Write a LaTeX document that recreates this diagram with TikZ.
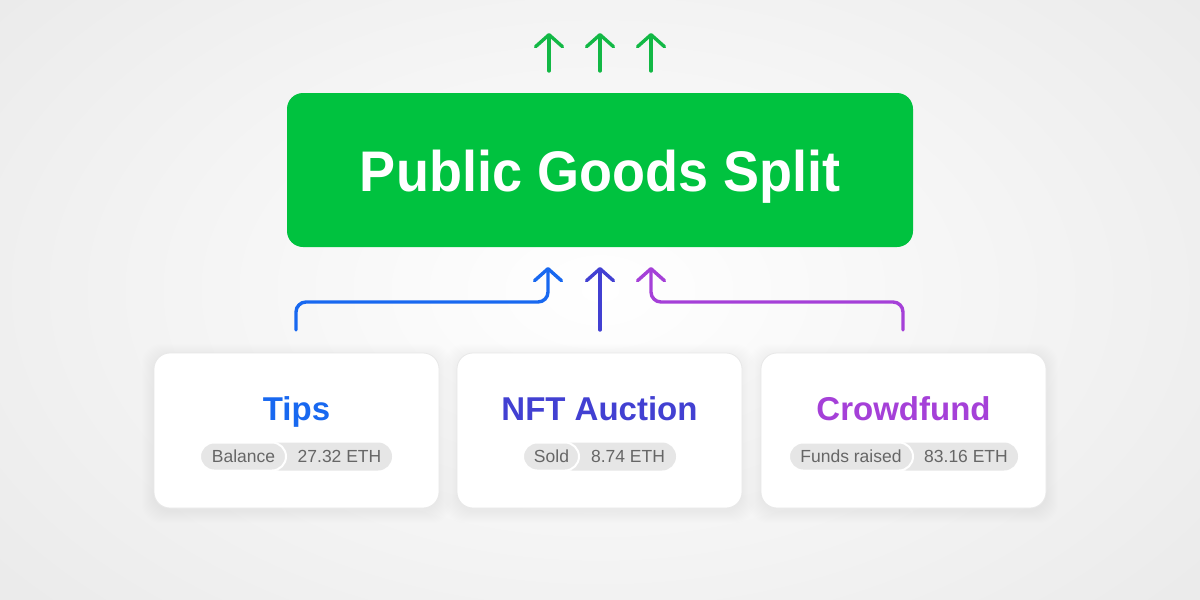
\documentclass[tikz,border=0pt]{standalone}
\usepackage{fontspec}
\setmainfont{Liberation Sans}
\usetikzlibrary{arrows.meta,calc}
\definecolor{bgc}{HTML}{EBEBEB}
\definecolor{gboxc}{HTML}{00C23F}
\definecolor{garrc}{HTML}{12B845}
\definecolor{tipsc}{HTML}{1868F0}
\definecolor{nftc}{HTML}{4240D2}
\definecolor{crowdc}{HTML}{A540D8}
\definecolor{pillc}{HTML}{E6E6E6}
\definecolor{pilltxt}{HTML}{666666}
\definecolor{cardline}{HTML}{E8E8E8}
\pgfdeclarelayer{bglayer}
\pgfdeclarelayer{shadowlayer}
\pgfsetlayers{bglayer,shadowlayer,main}
\tikzset{
  gbox/.style={fill=gboxc, rounded corners=16pt, minimum width=626pt, minimum height=154pt, inner sep=0pt, text=white},
  card/.style={fill=white, draw=cardline, line width=0.8pt, rounded corners=16pt, minimum width=285pt, minimum height=155pt, inner sep=0pt},
  ttl/.style={anchor=base, inner sep=0pt, font=\fontsize{33}{33}\selectfont\bfseries},
  ptxt/.style={anchor=base, inner sep=0pt, text=pilltxt, font=\fontsize{17.5}{17.5}\selectfont},
  pillbg/.style={fill=pillc, rounded corners=14pt},
  pillfront/.style={fill=pillc, draw=white, line width=2pt, rounded corners=14pt},
  shadowpiece/.style={fill=black, opacity=0.004, rounded corners=20pt},
  conn/.style={line width=3.4pt, line cap=round, line join=round, rounded corners=10pt, -{Straight Barb[length=12pt,width=27pt,line cap=round,line join=round]}},
}
\begin{document}
\begin{tikzpicture}[x=1pt,y=-1pt]
\useasboundingbox (0,0) rectangle (1200,600);
\begin{pgfonlayer}{bglayer}
\fill[bgc] (0,0) rectangle (1200,600);
\begin{scope}
\clip (0,0) rectangle (1200,600);
\shade[inner color=white, outer color=bgc] (600,290) ellipse (760pt and 470pt);
\end{scope}
\end{pgfonlayer}

% main box
\node[gbox] (pgs) at (600,170) {};
\node[anchor=base, inner sep=0pt, text=white] (pgsT) at (600,191) {\scalebox{1}[1.06]{\fontsize{54}{54}\selectfont\bfseries Public Goods Split}};

% top green arrows
\coordinate (g1s) at (549,71); \coordinate (g1e) at (549,33);
\coordinate (g2s) at (600,71); \coordinate (g2e) at (600,33);
\coordinate (g3s) at (651,71); \coordinate (g3e) at (651,33);
\draw[conn, garrc] (g1s) -- (g1e);
\draw[conn, garrc] (g2s) -- (g2e);
\draw[conn, garrc] (g3s) -- (g3e);

% cards
\node[card] (tips) at (296.5,430.5) {};
\node[card] (nft) at (599.5,430.5) {};
\node[card] (crowd) at (903.5,430.5) {};

\begin{pgfonlayer}{shadowlayer}
\foreach \n in {tips,nft,crowd}{
  \foreach \i in {1,...,12}{
    \fill[shadowpiece] ($(\n.south west)+(-\i,\i+3)$) rectangle ($(\n.north east)+(\i,-\i+3)$);
  }
}
\end{pgfonlayer}

\node[ttl, text=tipsc] (tipsT) at (296.5,420) {Tips};
\node[ttl, text=nftc] (nftT) at (599.5,420) {NFT Auction};
\node[ttl, text=crowdc] (crowdT) at (903.5,420) {Crowdfund};

% pills
\fill[pillbg] (265,442.5) rectangle (392,470.5);
\filldraw[pillfront] (200,442.5) rectangle (286,470.5);
\node[ptxt] (tipsL) at (243.5,462.5) {Balance};
\node[ptxt] (tipsV) at (339.5,462.5) {27.32 ETH};

\fill[pillbg] (558,442.5) rectangle (676,470.5);
\filldraw[pillfront] (523,442.5) rectangle (579,470.5);
\node[ptxt] (nftL) at (551.5,462.5) {Sold};
\node[ptxt] (nftV) at (628,462.5) {8.74 ETH};

\fill[pillbg] (892,442.5) rectangle (1018,470.5);
\filldraw[pillfront] (789,442.5) rectangle (913,470.5);
\node[ptxt] (crowdL) at (851,462.5) {Funds raised};
\node[ptxt] (crowdV) at (966,462.5) {83.16 ETH};

% connectors
\coordinate (tipsS) at (296,330);
\coordinate (tipsK) at (548,302);
\coordinate (tipsE) at (548,267);
\coordinate (nftS) at (600,330);
\coordinate (nftE) at (600,267);
\coordinate (crowdS) at (903,330);
\coordinate (crowdK) at (651,302);
\coordinate (crowdE) at (651,267);
\draw[conn, tipsc] (tipsS) |- (tipsK) -- (tipsE);
\draw[conn, nftc] (nftS) -- (nftE);
\draw[conn, crowdc] (crowdS) |- (crowdK) -- (crowdE);
\end{tikzpicture}
\end{document}
